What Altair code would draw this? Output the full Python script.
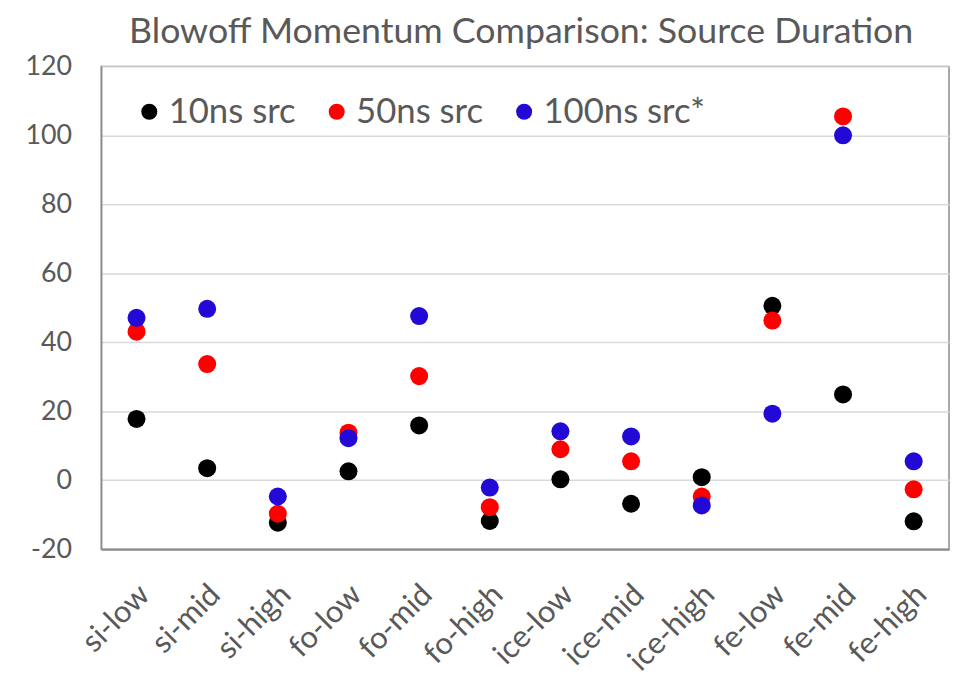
import altair as alt
import pandas as pd

categories = ["si-low", "si-mid", "si-high", "fo-low", "fo-mid", "fo-high",
              "ice-low", "ice-mid", "ice-high", "fe-low", "fe-mid", "fe-high"]
series_names = ["10ns src", "50ns src", "100ns src*"]
src10 = [17.8, 3.5, -12.3, 2.6, 15.9, -11.8, 0.3, -6.8, 0.9, 50.6, 24.9, -11.9]
src50 = [43.1, 33.7, -9.7, 13.8, 30.2, -7.8, 9.0, 5.5, -4.7, 46.3, 105.5, -2.6]
src100 = [47.1, 49.7, -4.7, 12.2, 47.6, -2.1, 14.2, 12.7, -7.3, 19.3, 100.0, 5.5]
colors = ["#000000", "#FF0000", "#2209D6"]
y_ticks = [-20, 0, 20, 40, 60, 80, 100, 120]

rows = []
for s_i, (name, vals) in enumerate(zip(series_names, [src10, src50, src100])):
    for c, v in zip(categories, vals):
        rows.append({"category": c, "series": name, "value": v, "order": s_i})
df = pd.DataFrame(rows)

FONT = "Lato"
GRAY = "#595959"

chart = alt.Chart(df).mark_circle(size=330, opacity=1).encode(
    x=alt.X("category:N", sort=categories, title=None,
            scale=alt.Scale(padding=0.5),
            axis=alt.Axis(labelAngle=-45, labelAlign="right", labelBaseline="middle",
                          labelPadding=41, labelOffset=8, ticks=False, domain=True,
                          domainColor="#8C8C8C", domainWidth=2,
                          labelFontSize=31, labelColor=GRAY, labelFont=FONT)),
    y=alt.Y("value:Q", title=None,
            scale=alt.Scale(domain=[-20, 120], nice=False, zero=False),
            axis=alt.Axis(values=y_ticks, ticks=False, domain=True,
                          domainColor="#8C8C8C", domainWidth=1.5,
                          grid=True, gridColor="#D9D9D9", gridWidth=1.5,
                          labelExpr="'' + datum.value",
                          labelPadding=30, labelFontSize=27, labelColor=GRAY,
                          labelFont=FONT)),
    color=alt.Color("series:N", sort=series_names,
                    scale=alt.Scale(domain=series_names, range=colors),
                    legend=alt.Legend(title=None, orient="none", direction="horizontal",
                                      legendX=31, legendY=28, symbolType="circle",
                                      symbolSize=260, symbolStrokeWidth=0,
                                      labelFontSize=35, labelColor=GRAY, labelFont=FONT,
                                      labelLimit=400,
                                      labelOffset=2, columnPadding=23, padding=0)),
    order=alt.Order("order:Q"),
).properties(
    width=855, height=487,
    title=alt.TitleParams("Blowoff Momentum Comparison: Source Duration",
                          fontSize=36, font=FONT, color=GRAY, fontWeight="normal",
                          anchor="middle", offset=2, dx=-4),
    autosize=alt.AutoSizeParams(type="none"),
    padding={"left": 94, "top": 56, "right": 1, "bottom": 134},
).configure_view(stroke="#8C8C8C", strokeWidth=1.5)

chart.save("out.html", embed_options={"renderer": "svg", "actions": False})
